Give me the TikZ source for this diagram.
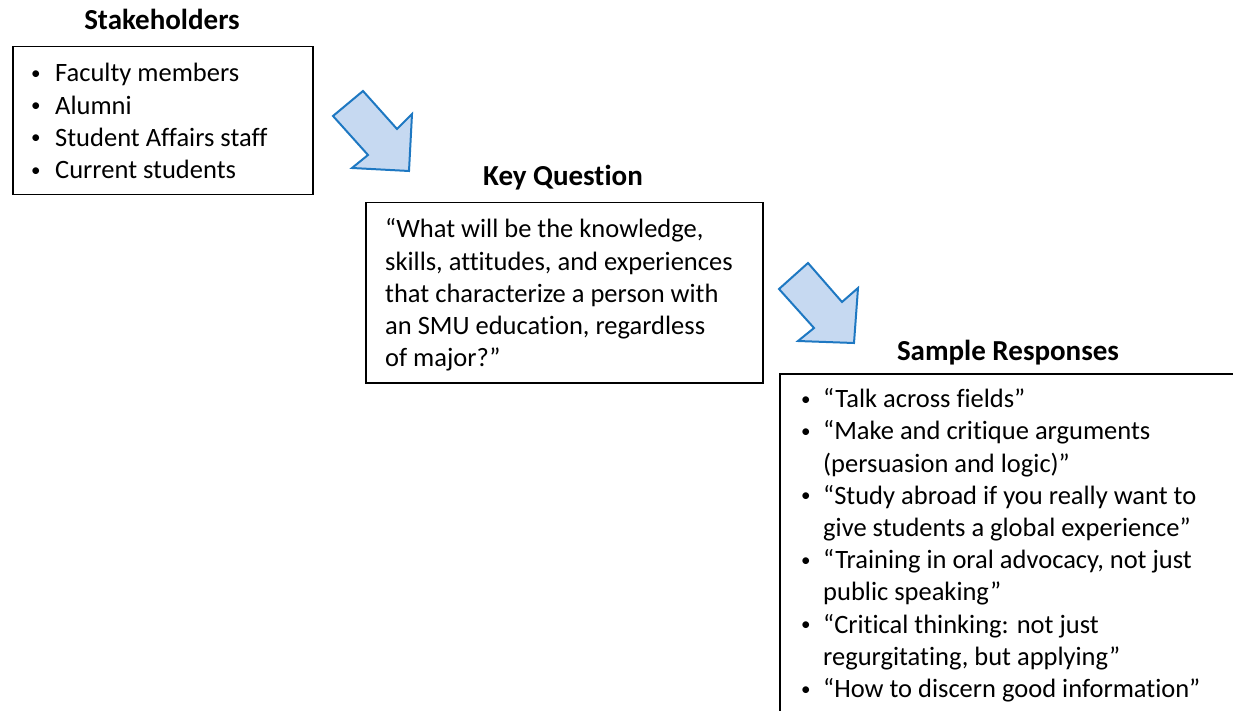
\documentclass[tikz,border=0pt]{standalone}
\usepackage{fontspec}
\setmainfont[Ligatures=NoCommon]{Carlito}
\usepackage{array}
\definecolor{arrowfill}{HTML}{C6D9F1}
\definecolor{arrowline}{HTML}{1E78C2}
\newcommand\mybul{\raisebox{2.5pt}{\fontsize{19}{19}\selectfont •}}
\tikzset{
  box/.style={draw=black, line width=1.5pt, rectangle, inner sep=0pt, anchor=north west},
  bluearrow/.style={draw=arrowline, fill=arrowfill, line width=2pt, line join=miter},
  title/.style={font=\fontsize{29}{35}\selectfont\bfseries, anchor=base, inner sep=0pt},
  body/.style={font=\fontsize{26.5}{32.2}\selectfont, anchor=base west, inner sep=0pt},
}
\begin{document}
\begin{tikzpicture}[x=1pt,y=-1pt]
\useasboundingbox (0,0) rectangle (1233,711);
\clip (0,0) rectangle (1233,711);
% boxes
\node[box, minimum width=300pt, minimum height=148pt] (b1) at (12,46) {};
\node[box, minimum width=397pt, minimum height=180pt] (b2) at (365,202) {};
\node[box, minimum width=470pt, minimum height=360pt] (b3) at (779,373) {};
% titles
\node[title] (t1) at (162,30) {Stakeholders};
\node[title] (t2) at (563,186) {Key Question};
\node[title] (t3) at (1008,360) {Sample Responses};
% texts
\node[body] (s1) at (31,82) {%
\begin{tabular}[t]{@{}p{24pt}@{}l@{}}
\mybul & Faculty members\\
\mybul & Alumni\\
\mybul & Student Affairs staff\\
\mybul & Current students
\end{tabular}};
\node[body] (q) at (385,238) {%
\begin{tabular}[t]{@{}l@{}}
“What will be the knowledge,\\
skills, attitudes, and experiences\\
that characterize a person with\\
an SMU education, regardless\\
of major?”
\end{tabular}};
\node[body] (r) at (801,407.7) {%
\begin{tabular}[t]{@{}p{22pt}@{}l@{}}
\mybul & “Talk across fields”\\
\mybul & “Make and critique arguments\\
 & (persuasion and logic)”\\
\mybul & “Study abroad if you really want to\\
 & give students a global experience”\\
\mybul & “Training in oral advocacy, not just\\
 & public speaking”\\
\mybul & “Critical thinking: not just\\
 & regurgitating, but applying”\\
\mybul & “How to discern good information”
\end{tabular}};
% arrows
\draw[bluearrow] (363,91) -- (333,116) -- (368,155) -- (352,168) -- (409,171) -- (412,114) -- (397,129) -- cycle;
\draw[bluearrow] (808,263) -- (779,289) -- (814,328) -- (798,341) -- (854,343) -- (858,288) -- (842,302) -- cycle;
\end{tikzpicture}
\end{document}
